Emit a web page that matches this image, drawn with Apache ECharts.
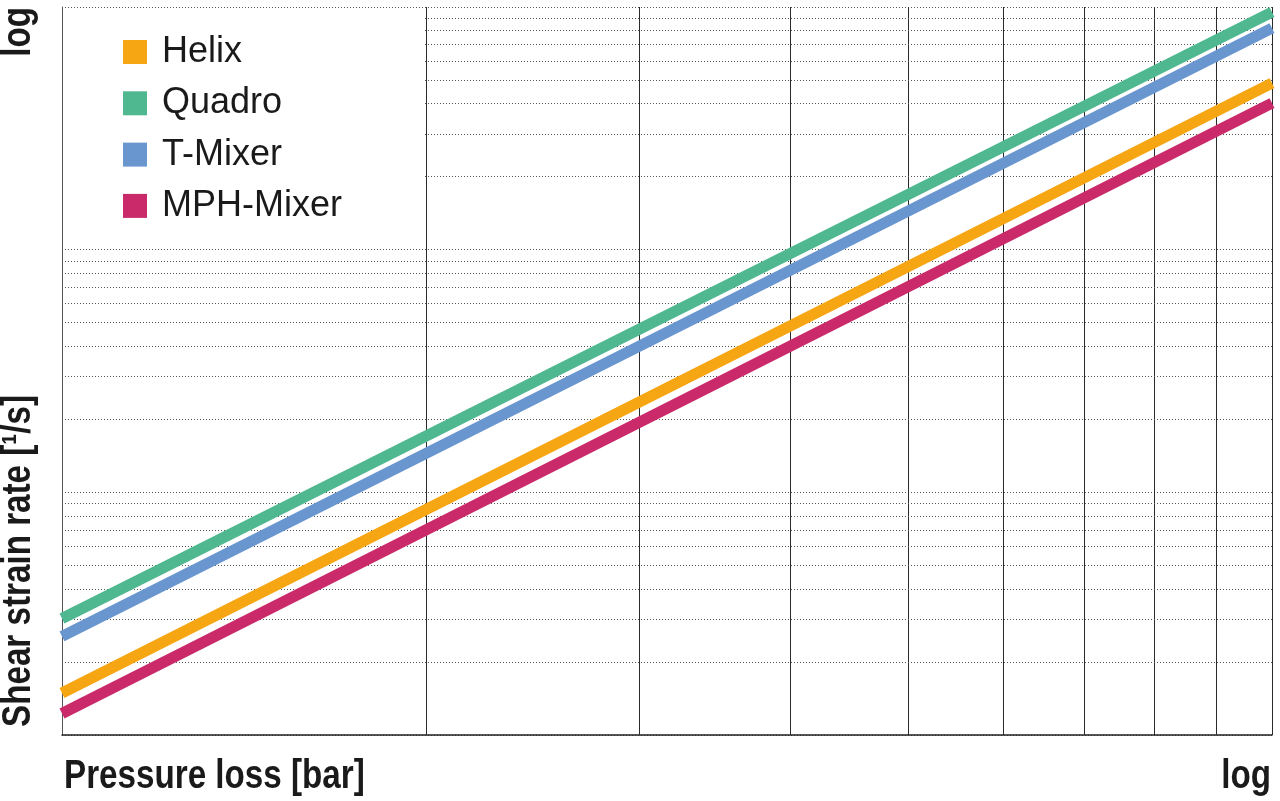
<!DOCTYPE html>
<html>
<head>
<meta charset="utf-8">
<script src="https://cdn.jsdelivr.net/npm/echarts@6/dist/echarts.min.js"></script>
<style>
  html, body { margin: 0; padding: 0; background: #ffffff; }
  #chart { width: 1280px; height: 801px; }
</style>
</head>
<body>
<div id="chart"></div>
<script>
// ---- data ----
const seriesNames = ['Helix', 'Quadro', 'T-Mixer', 'MPH-Mixer'];
const pressureLoss = [1, 10];              // x values (log axis, bar)
const helix    = [1.49, 486];              // shear strain rate at each x
const quadro   = [3.02, 953];
const tMixer   = [2.55, 819];
const mphMixer = [1.226, 402];
const xGridValues = [2, 3, 4, 5, 6, 7, 8, 9];
const yGridValues = [2, 3, 4, 5, 6, 7, 8, 9,
                     20, 30, 40, 50, 60, 70, 80, 90,
                     200, 300, 400, 500, 600, 700, 800, 900];
const xTitle = 'Pressure loss [bar]';
const yTitle = 'Shear strain rate [\u00B9/s]';
const scaleLabel = 'log';

const colors = ['#F6A613', '#4FB890', '#6A96D0', '#CB2A6A'];
const seriesValues = [helix, quadro, tMixer, mphMixer];

const titleFont = "bold 40px 'Liberation Sans', Arial, sans-serif";
const titleSqueeze = 0.83;

const gridMarks = [];
xGridValues.forEach(v => gridMarks.push({
  xAxis: v, lineStyle: { color: '#2a2a2a', width: 1, type: 'solid' }
}));
yGridValues.forEach(v => gridMarks.push({
  yAxis: v, lineStyle: { color: '#555555', width: 1, type: [1, 2] }
}));

const series = seriesNames.map((name, i) => {
  const s = {
    name: name,
    type: 'line',
    data: pressureLoss.map((x, j) => [x, seriesValues[i][j]]),
    symbol: 'none',
    color: colors[i],
    lineStyle: { width: 11, color: colors[i], cap: 'butt' },
    z: 3
  };
  if (i === 0) {
    s.markLine = {
      silent: true,
      symbol: 'none',
      z: 1,
      label: { show: false },
      emphasis: { disabled: true },
      animation: false,
      data: gridMarks
    };
  }
  return s;
});

function titleText(text, x, y, align, rotated) {
  return {
    type: 'text', z: 10, silent: true, x: x, y: y,
    rotation: rotated ? Math.PI / 2 : 0,
    scaleX: titleSqueeze, scaleY: 1,
    style: { text: text, font: titleFont, fill: '#1a1a1a',
             textAlign: align, align: align,
             textVerticalAlign: 'middle', verticalAlign: 'middle' }
  };
}

const chart = echarts.init(document.getElementById('chart'), null, { renderer: 'canvas' });
chart.setOption({
  animation: false,
  backgroundColor: '#ffffff',
  grid: { left: 62, right: 8, top: 7, bottom: 66, containLabel: false },
  xAxis: {
    type: 'log', logBase: 10, min: 1, max: 10,
    axisLine: { show: true, lineStyle: { color: '#222222', width: 1.5 } },
    axisTick: { show: false },
    axisLabel: { show: false },
    splitLine: { show: true, lineStyle: { color: '#2a2a2a', width: 1, type: 'solid' } },
    minorTick: { show: false },
    minorSplitLine: { show: false }
  },
  yAxis: {
    type: 'log', logBase: 10, min: 1, max: 1000,
    axisLine: { show: true, lineStyle: { color: '#555555', width: 1 } },
    axisTick: { show: false },
    axisLabel: { show: false },
    splitLine: { show: true, lineStyle: { color: '#555555', width: 1, type: [1, 2] } },
    minorTick: { show: false },
    minorSplitLine: { show: false }
  },
  legend: {
    data: seriesNames,
    orient: 'vertical',
    left: 123,
    top: 34,
    padding: 0,
    itemWidth: 24,
    itemHeight: 24,
    itemGap: 15.3,
    icon: 'rect',
    selectedMode: false,
    z: 6,
    textStyle: {
      fontSize: 36,
      fontFamily: "'Liberation Sans', Arial, sans-serif",
      color: '#1a1a1a',
      padding: [0, 0, 0, 10]
    }
  },
  graphic: [
    {
      type: 'rect', z: 5, silent: true,
      shape: { x: 63.5, y: 9.5, width: 361.5, height: 237 },
      style: { fill: '#ffffff' }
    },
    titleText(yTitle, 19, 727, 'left', true),
    titleText(scaleLabel, 19, 7, 'right', true),
    titleText(xTitle, 64, 777, 'left', false),
    titleText(scaleLabel, 1271, 777, 'right', false)
  ],
  series: series
});
</script>
</body>
</html>
